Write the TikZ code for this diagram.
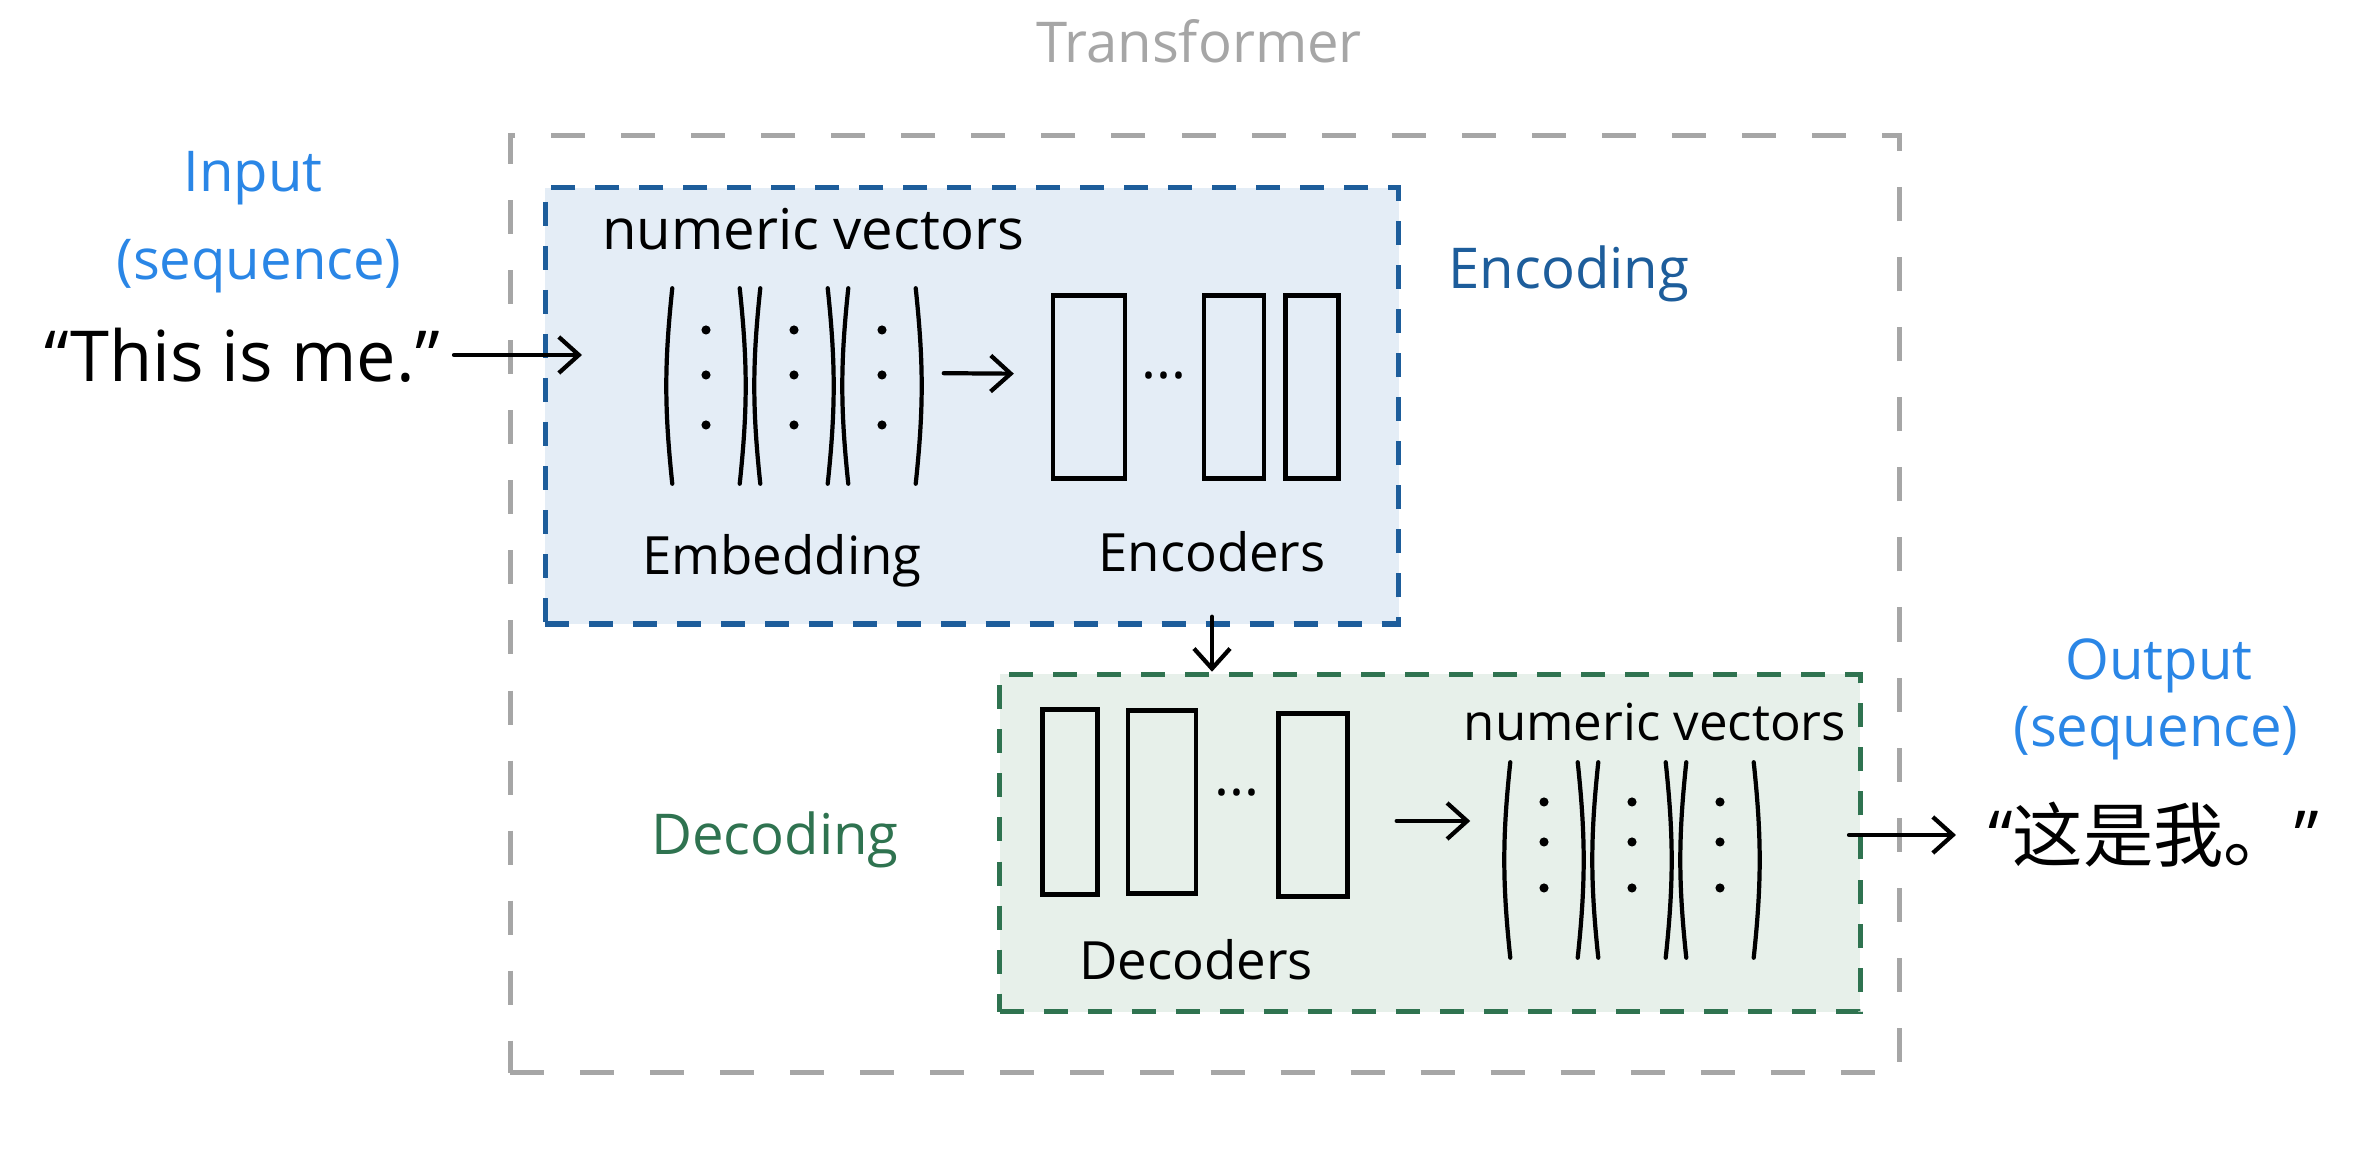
\documentclass[tikz,border=0pt]{standalone}
\usepackage{fontspec}
\setmainfont{Open Sans}
\newfontfamily\cjk{Noto Sans CJK SC}
\usetikzlibrary{arrows.meta, positioning}

\definecolor{framegray}{HTML}{A6A6A6}
\definecolor{encblue}{HTML}{1D5D9B}
\definecolor{encfill}{HTML}{E4EDF6}
\definecolor{iolabel}{HTML}{2A86E6}
\definecolor{decgreen}{HTML}{2F7350}
\definecolor{decfill}{HTML}{E7F0EA}

\begin{document}
\begin{tikzpicture}[x=0.01cm, y=0.01cm,
    txt/.style = {font=\fontsize{16}{19}\selectfont, inner sep=1pt},
    sml/.style = {font=\fontsize{15}{18}\selectfont, inner sep=1pt},
    big/.style = {font=\fontsize{20}{24}\selectfont, inner sep=1pt},
    blk/.style = {draw, line width=1.2pt, minimum height=1.83cm, inner sep=0pt},
    vec/.style = {minimum width=0.66cm, minimum height=1.94cm, inner sep=0pt},
    pen/.style = {line width=1.2pt, line cap=round},
    arr/.style = {pen, -{Straight Barb[length=2mm, width=3.6mm]}},
    region/.style = {line width=1.5pt, dash pattern=on 0.24cm off 0.2cm, inner sep=0pt}]

\useasboundingbox (0,0) rectangle (2359,1155);

% outer frame
\node[draw=framegray, line width=1.4pt, dash pattern=on 0.34cm off 0.36cm,
      minimum width=13.89cm, minimum height=9.37cm] (trf) at (1205,551) {};
\node[txt, text=framegray] (title) at (1199,1114) {Transformer};

% encoding part
\node[region, draw=encblue, fill=encfill, minimum width=8.53cm, minimum height=4.36cm] (encbox) at (972,749) {};
\node[txt, anchor=west] (envec) at (598,926) {numeric vectors};
\foreach \i/\x in {1/706, 2/794, 3/882}
    \node[vec] (ev\i) at (\x,769) {};
\foreach \i in {1,2,3} {
    \draw[pen] (ev\i.north west) to[bend right=6] (ev\i.south west);
    \draw[pen] (ev\i.north east) to[bend left=6] (ev\i.south east);
    \foreach \d in {56,11,-39}
        \fill ([yshift=\d*0.01cm]ev\i.center) circle (1.3pt);
}
\node[blk, minimum width=0.72cm] (eb1) at (1089,768) {};
\node[blk, minimum width=0.60cm] (eb2) at (1234,768) {};
\node[blk, minimum width=0.53cm] (eb3) at (1312,768) {};
\node[txt] (edots) at (1164,779) {...};
\node[sml] (emb) at (782,594) {Embedding};
\node[sml] (enc) at (1212,603) {Encoders};
\node[txt, text=encblue] (encl) at (1569,881) {Encoding};
\draw[arr, shorten <=0.28cm, shorten >=0.37cm] ([yshift=0.13cm]ev3.east) -- ([yshift=0.13cm]eb1.west);

% input
\node[txt, text=iolabel] (inp) at (253,977) {Input};
\node[txt, text=iolabel] (inseq) at (259,889) {(sequence)};
\node[big] (sent) at (242,800) {“This is me.”};
\coordinate (inend) at (582,797);
\draw[arr, shorten <=0.1cm] (sent.east) -- (sent.east -| inend);

% decoding part
\node[region, draw=decgreen, fill=decfill, minimum width=8.6cm, minimum height=3.37cm] (decbox) at (1430,312) {};
\node[blk, minimum width=0.55cm, minimum height=1.85cm] (db1) at (1070,353) {};
\node[blk, minimum width=0.68cm] (db2) at (1162,353) {};
\node[blk, minimum width=0.69cm] (db3) at (1313,350) {};
\node[txt] (ddots) at (1237,362) {...};
\node[sml] (dec) at (1196,195) {Decoders};
\node[font=\fontsize{14.5}{17}\selectfont, inner sep=1pt] (devec) at (1655,433) {numeric vectors};
\foreach \i/\x in {1/1544, 2/1632, 3/1720}
    \node[vec] (dv\i) at (\x,295) {};
\foreach \i in {1,2,3} {
    \draw[pen] (dv\i.north west) to[bend right=6] (dv\i.south west);
    \draw[pen] (dv\i.north east) to[bend left=6] (dv\i.south east);
    \foreach \d in {58,18,-28}
        \fill ([yshift=\d*0.01cm]dv\i.center) circle (1.3pt);
}
\draw[arr, shorten <=0.47cm, shorten >=0.4cm] ([yshift=-0.16cm]db3.east) -- ([yshift=-0.16cm]db3.east -| dv1.west);
\node[txt, text=decgreen] (decl) at (775,315) {Decoding};

% handover and output
\draw[arr] ([yshift=0.1cm]enc |- encbox.south) -- (enc |- decbox.north);
\node[txt, text=iolabel] (outp) at (2159,489) {Output};
\node[txt, text=iolabel] (outseq) at (2156,422) {(sequence)};
\node[big, anchor=west] (osent) at (1984,320) {“{\cjk 这是我。}”};
\coordinate (outstart) at (1849,320);
\draw[arr, shorten >=0.28cm] (outstart) -- (osent.west);
\end{tikzpicture}
\end{document}
